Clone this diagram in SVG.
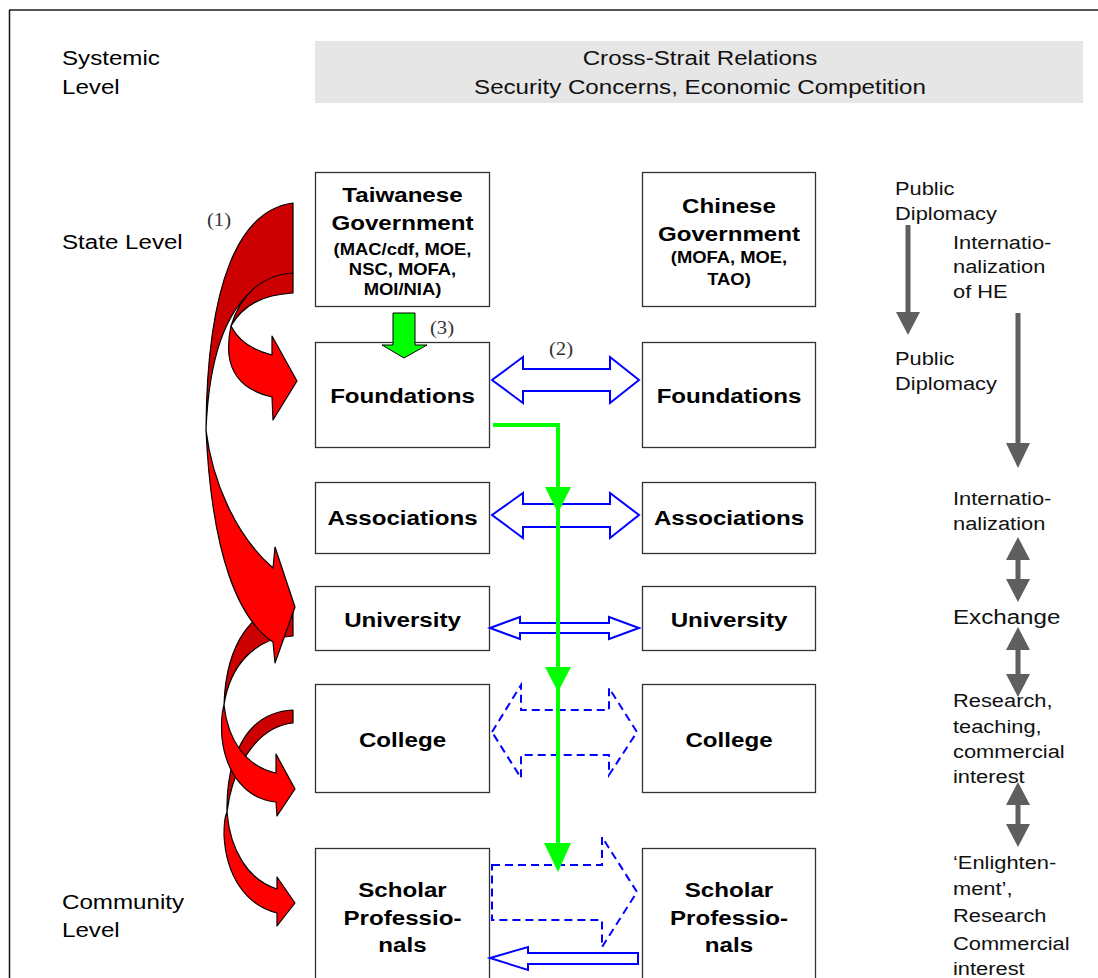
<svg xmlns="http://www.w3.org/2000/svg" width="1098" height="978" viewBox="0 0 1098 978">
  <style>
    .t { font-family: "Liberation Sans", Arial, sans-serif; fill: #000; }
    .b { font-weight: bold; font-size: 21px; text-anchor: middle; }
    .s { font-size: 16px; }
    .lvl { font-size: 21px; }
    .hdr { font-size: 21px; text-anchor: middle; fill: #111; }
    .ann { font-size: 19px; fill: #111; }
    .num { font-family: "Liberation Serif", "Times New Roman", serif; font-size: 18px; fill: #333; text-anchor: middle; }
    .box { fill: #fff; stroke: #333; stroke-width: 1.3; }
    .blue { fill: #fff; stroke: #0000ff; stroke-width: 2; stroke-linejoin: miter; }
    .dash { fill: none; stroke: #0000ff; stroke-width: 2; stroke-dasharray: 8 5; }
    .dk { fill: #cc0000; stroke: #000; stroke-width: 1.2; stroke-linejoin: round; }
    .rd { fill: #ff0000; stroke: #000; stroke-width: 1.2; stroke-linejoin: round; }
    .grey { fill: #5f5f5f; }
    .green { fill: #00ff00; }
  </style>

  <!-- page frame -->
  <g id="frame">
    <path d="M9,10 H1098" stroke="#555" stroke-width="2" fill="none"/>
    <path d="M9.5,10 V978" stroke="#111" stroke-width="1.5" fill="none"/>
  </g>

  <!-- level labels -->
  <g id="levels" class="t lvl">
    <text transform="translate(62 65) scale(1.15 1)">Systemic</text>
    <text transform="translate(62 94) scale(1.15 1)">Level</text>
    <text transform="translate(62 249) scale(1.15 1)">State Level</text>
    <text transform="translate(62 909) scale(1.15 1)">Community</text>
    <text transform="translate(62 937) scale(1.15 1)">Level</text>
  </g>

  <!-- systemic context banner -->
  <g id="systemic">
    <rect x="315" y="41" width="768" height="62" fill="#e6e6e6"/>
    <text class="t hdr" transform="translate(700 65) scale(1.15 1)">Cross-Strait Relations</text>
    <text class="t hdr" transform="translate(700 94) scale(1.15 1)">Security Concerns, Economic Competition</text>
  </g>

  <!-- Taiwan side -->
  <g id="tw-government">
    <rect class="box" x="315.5" y="172.5" width="174" height="134"/>
    <text class="t b" transform="translate(402.5 202) scale(1.15 1)">Taiwanese</text>
    <text class="t b" transform="translate(402.5 230) scale(1.15 1)">Government</text>
    <text class="t b s" transform="translate(402.5 255) scale(1.15 1)">(MAC/cdf, MOE,</text>
    <text class="t b s" transform="translate(402.5 275) scale(1.15 1)">NSC, MOFA,</text>
    <text class="t b s" transform="translate(402.5 295) scale(1.15 1)">MOI/NIA)</text>
  </g>
  <g id="tw-foundations">
    <rect class="box" x="315.5" y="342.5" width="174" height="105"/>
    <text class="t b" transform="translate(402.5 403) scale(1.15 1)">Foundations</text>
  </g>
  <g id="tw-associations">
    <rect class="box" x="315.5" y="482.5" width="174" height="71"/>
    <text class="t b" transform="translate(402.5 525) scale(1.15 1)">Associations</text>
  </g>
  <g id="tw-university">
    <rect class="box" x="315.5" y="586.5" width="174" height="64"/>
    <text class="t b" transform="translate(402.5 627) scale(1.15 1)">University</text>
  </g>
  <g id="tw-college">
    <rect class="box" x="315.5" y="684.5" width="174" height="108"/>
    <text class="t b" transform="translate(402.5 747) scale(1.15 1)">College</text>
  </g>
  <g id="tw-scholars">
    <rect class="box" x="315.5" y="848.5" width="174" height="140"/>
    <text class="t b" transform="translate(402.5 897) scale(1.15 1)">Scholar</text>
    <text class="t b" transform="translate(402.5 925) scale(1.15 1)">Professio-</text>
    <text class="t b" transform="translate(402.5 952) scale(1.15 1)">nals</text>
  </g>

  <!-- China side -->
  <g id="cn-government">
    <rect class="box" x="642.5" y="172.5" width="173" height="134"/>
    <text class="t b" transform="translate(729 213) scale(1.15 1)">Chinese</text>
    <text class="t b" transform="translate(729 241) scale(1.15 1)">Government</text>
    <text class="t b s" transform="translate(729 263) scale(1.15 1)">(MOFA, MOE,</text>
    <text class="t b s" transform="translate(729 285) scale(1.15 1)">TAO)</text>
  </g>
  <g id="cn-foundations">
    <rect class="box" x="642.5" y="342.5" width="173" height="105"/>
    <text class="t b" transform="translate(729 403) scale(1.15 1)">Foundations</text>
  </g>
  <g id="cn-associations">
    <rect class="box" x="642.5" y="482.5" width="173" height="71"/>
    <text class="t b" transform="translate(729 525) scale(1.15 1)">Associations</text>
  </g>
  <g id="cn-university">
    <rect class="box" x="642.5" y="586.5" width="173" height="64"/>
    <text class="t b" transform="translate(729 627) scale(1.15 1)">University</text>
  </g>
  <g id="cn-college">
    <rect class="box" x="642.5" y="684.5" width="173" height="108"/>
    <text class="t b" transform="translate(729 747) scale(1.15 1)">College</text>
  </g>
  <g id="cn-scholars">
    <rect class="box" x="642.5" y="848.5" width="173" height="140"/>
    <text class="t b" transform="translate(729 897) scale(1.15 1)">Scholar</text>
    <text class="t b" transform="translate(729 925) scale(1.15 1)">Professio-</text>
    <text class="t b" transform="translate(729 952) scale(1.15 1)">nals</text>
  </g>

  <!-- motivations column -->
  <g id="rationales" class="t ann">
    <text transform="translate(895 195) scale(1.15 1)">Public</text>
    <text transform="translate(895 220) scale(1.15 1)">Diplomacy</text>
    <text transform="translate(953 249) scale(1.15 1)">Internatio-</text>
    <text transform="translate(953 273) scale(1.15 1)">nalization</text>
    <text transform="translate(953 298) scale(1.15 1)">of HE</text>
    <text transform="translate(895 365) scale(1.15 1)">Public</text>
    <text transform="translate(895 390) scale(1.15 1)">Diplomacy</text>
    <text transform="translate(953 505) scale(1.15 1)">Internatio-</text>
    <text transform="translate(953 530) scale(1.15 1)">nalization</text>
    <text transform="translate(953 624) scale(1.15 1)" style="font-size:21px">Exchange</text>
    <text transform="translate(953 707) scale(1.15 1)">Research,</text>
    <text transform="translate(953 733) scale(1.15 1)">teaching,</text>
    <text transform="translate(953 758) scale(1.15 1)">commercial</text>
    <text transform="translate(953 783) scale(1.15 1)">interest</text>
    <text transform="translate(953 869) scale(1.15 1)">‘Enlighten-</text>
    <text transform="translate(953 895) scale(1.15 1)">ment’,</text>
    <text transform="translate(953 922) scale(1.15 1)">Research</text>
    <text transform="translate(953 950) scale(1.15 1)">Commercial</text>
    <text transform="translate(953 975) scale(1.15 1)">interest</text>
  </g>

  <!-- connectors, drawn above the boxes -->
  <g id="connectors">
    <!-- (1) curved red arrows: darker back faces first -->
    <path class="dk" d="M293,203 C240,210 207,280 206,430 C210,330 240,280 293,273 Z"/>
    <path class="dk" d="M293,273 C262,275 240,295 231,326 C243,305 262,295 293,293 Z"/>
    <path class="dk" d="M293,604 C255,606 226,640 224,705 C230,665 255,638 293,636 Z"/>
    <path class="dk" d="M293,710 C245,712 226,760 227,812 C232,770 255,727 293,723 Z"/>
    <!-- bright front faces with heads -->
    <path class="rd" d="M206,430 C212,480 235,535 273,568 L275,547 L295,607 L275,663 L273,642 C240,620 212,560 206,430 Z"/>
    <path class="rd" d="M231,326 C238,340 252,350 272,355 L272,336 L297,381 L273,420 L272,397 C250,392 232,380 229,355 C228,345 229,335 231,326 Z"/>
    <path class="rd" d="M224,705 C228,740 245,766 276,773 L276,754 L295,789 L277,816 L276,802 C248,800 226,775 222,738 C221,725 222,712 224,705 Z"/>
    <path class="rd" d="M227,812 C230,850 248,880 277,889 L277,877 L295,903 L277,926 L277,913 C245,905 226,875 224,835 C224,825 225,816 227,812 Z"/>

    <!-- (3) government to foundations -->
    <polygon class="green" stroke="#000" stroke-width="1" points="393,313 415,313 415,345 427,345 404,358 382,345 393,345"/>

    <!-- (2) cross-strait links -->
    <polygon class="blue" points="492,380 523,357 523,369 610,369 610,357 639,380 610,403 610,391 523,391 523,403"/>
    <polygon class="blue" points="492,515 523,493 523,504 610,504 610,493 639,515 610,538 610,527 523,527 523,538"/>
    <polygon class="blue" points="490,628 520,617 520,623 609,623 609,617 639,628 609,639 609,633 520,633 520,639"/>
    <polygon class="dash" points="492,732 521,685 521,710 609,710 609,688 637,732 609,775 609,755 521,755 521,778"/>
    <polygon class="dash" points="492,865 602,865 602,837 637,892 602,947 602,920 492,920"/>
    <polygon class="blue" points="490,958 528,947 528,953 638,953 638,964 528,964 528,970"/>

    <!-- foundations funding line down the hierarchy -->
    <path d="M493,425 H558 V866" fill="none" stroke="#00ff00" stroke-width="4"/>
    <polygon class="green" points="545,487 571,487 558,513"/>
    <polygon class="green" points="545,667 571,667 558,692"/>
    <polygon class="green" points="544,843 571,843 558,872"/>

    <!-- rationale arrows -->
    <rect class="grey" x="905.5" y="225" width="5" height="88"/>
    <polygon class="grey" points="896,312 920,312 908,335"/>
    <rect class="grey" x="1015.5" y="313" width="5" height="131"/>
    <polygon class="grey" points="1006,443 1030,443 1018,468"/>
    <polygon class="grey" points="1018,537 1030,560 1020.5,560 1020.5,579 1030,579 1018,602 1006,579 1015.5,579 1015.5,560 1006,560"/>
    <polygon class="grey" points="1018,627 1030,650 1020.5,650 1020.5,674 1030,674 1018,697 1006,674 1015.5,674 1015.5,650 1006,650"/>
    <polygon class="grey" points="1018,782 1030,805 1020.5,805 1020.5,824 1030,824 1018,847 1006,824 1015.5,824 1015.5,805 1006,805"/>

    <text class="num" transform="translate(219 226) scale(1.15 1)">(1)</text>
    <text class="num" transform="translate(561 355) scale(1.15 1)">(2)</text>
    <text class="num" transform="translate(442 334) scale(1.15 1)">(3)</text>
  </g>
</svg>
